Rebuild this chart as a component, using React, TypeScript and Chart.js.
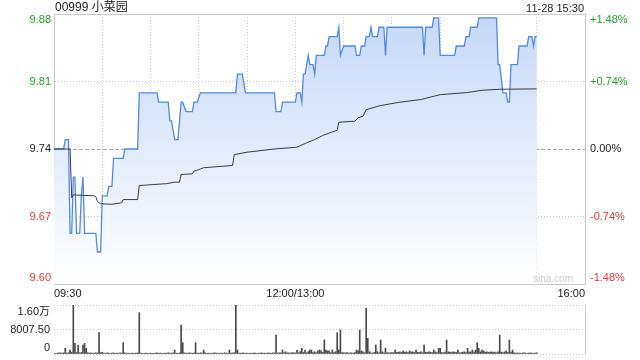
import React, { useEffect, useRef } from 'react';
import { Chart, registerables } from 'chart.js';

Chart.register(...registerables);

// ---------- data ----------
const stockTitle = '00999 小菜园';
const stampText = '11-28 15:30';
const watermark = 'sina.com';
const PREV_CLOSE = 9.74;
const RANGE_PCT = 1.48;
const SESSION_MINUTES = 330;

const timeTickMinutes = [0, 30, 60, 90, 120, 150, 180, 210, 240, 270, 300, 330];
const timeTickLabels = ['09:30', '', '', '', '', '12:00/13:00', '', '', '', '', '', '16:00'];
const priceTickSteps = [-2, -1, 0, 1, 2];
const priceTickLabels = ['9.60', '9.67', '9.74', '9.81', '9.88'];
const pctTickLabels = ['-1.48%', '-0.74%', '0.00%', '+0.74%', '+1.48%'];
const VOL_MAX = 16015;
const volTickValues = [0, 8007.5, 16015];
const volTickLabels = ['0', '8007.50', '1.60万'];

// price polyline vertices (minute index from 09:30, price)
const priceMinutes = [
  0, 6, 7, 9, 10, 11, 12, 13, 14, 16,
  17, 18, 19, 26, 27, 29, 30, 33, 34, 36,
  37, 43, 44, 52, 53, 64, 65, 71, 72, 73,
  75, 77, 79, 80, 82, 86, 87, 89, 91, 113,
  114, 117, 119, 137, 138, 141, 142, 150, 151, 153,
  154, 155, 156, 158, 159, 161, 162, 163, 168, 169,
  170, 171, 175, 176, 177, 178, 180, 187, 188, 190,
  191, 193, 194, 196, 197, 198, 201, 202, 205, 206,
  207, 229, 230, 231, 235, 236, 239, 240, 249, 250,
  255, 256, 258, 259, 263, 264, 275, 276, 277, 279,
  281, 282, 283, 284, 288, 289, 294, 295, 297, 298,
  299, 300,
];
const priceValues = [
  9.74, 9.74, 9.75, 9.75, 9.65, 9.65, 9.71, 9.71, 9.65, 9.65,
  9.69, 9.71, 9.65, 9.65, 9.63, 9.63, 9.69, 9.69, 9.70, 9.70,
  9.73, 9.73, 9.74, 9.74, 9.80, 9.80, 9.79, 9.79, 9.77, 9.77,
  9.75, 9.75, 9.79, 9.79, 9.78, 9.78, 9.79, 9.79, 9.80, 9.80,
  9.82, 9.82, 9.80, 9.80, 9.78, 9.78, 9.79, 9.79, 9.80, 9.80,
  9.79, 9.82, 9.82, 9.84, 9.83, 9.83, 9.82, 9.84, 9.84, 9.85,
  9.85, 9.86, 9.86, 9.86, 9.87, 9.84, 9.85, 9.85, 9.84, 9.84,
  9.85, 9.85, 9.86, 9.86, 9.87, 9.86, 9.86, 9.87, 9.87, 9.84,
  9.87, 9.87, 9.84, 9.87, 9.87, 9.88, 9.88, 9.84, 9.84, 9.85,
  9.85, 9.86, 9.86, 9.87, 9.87, 9.88, 9.88, 9.83, 9.83, 9.80,
  9.80, 9.79, 9.79, 9.83, 9.83, 9.85, 9.85, 9.86, 9.86, 9.85,
  9.86, 9.86,
];

// average price polyline vertices
const avgMinutes = [
  0, 10, 11, 12, 25, 26, 27, 29, 36, 42,
  43, 52, 53, 70, 75, 78, 79, 86, 87, 90,
  93, 111, 112, 120, 138, 151, 157, 162, 167, 173,
  176, 177, 187, 189, 192, 194, 203, 215, 228, 236,
  240, 257, 266, 277, 300,
];
const avgValues = [
  9.74, 9.74, 9.688, 9.691, 9.690, 9.689, 9.684, 9.6815, 9.681, 9.6825,
  9.686, 9.686, 9.701, 9.703, 9.7046, 9.7046, 9.7128, 9.7135, 9.7163, 9.718,
  9.720, 9.7224, 9.734, 9.7366, 9.7402, 9.7419, 9.7466, 9.7501, 9.7544, 9.7583,
  9.760, 9.7686, 9.7697, 9.7733, 9.775, 9.782, 9.7864, 9.790, 9.7928, 9.7963,
  9.798, 9.8003, 9.8027, 9.8038, 9.8042,
];

// volume per minute, 0..300
const volumes = [
  300, 200, 250, 400, 350, 300, 400, 1850, 300, 450,
  1300, 600, 16000, 3500, 500, 2950, 400, 500, 2950, 3500,
  1850, 400, 300, 350, 250, 300, 400, 350, 6970, 450,
  600, 300, 250, 350, 300, 200, 300, 400, 250, 300,
  200, 350, 300, 3700, 400, 250, 300, 200, 250, 300,
  200, 300, 350, 13500, 300, 250, 200, 300, 250, 200,
  300, 250, 200, 300, 350, 250, 300, 200, 250, 300,
  250, 400, 300, 250, 350, 1300, 300, 250, 400, 9480,
  3700, 350, 300, 250, 400, 300, 250, 350, 3700, 300,
  250, 400, 300, 1300, 350, 250, 300, 200, 250, 300,
  350, 250, 300, 200, 300, 250, 400, 300, 250, 1300,
  300, 350, 400, 16000, 1300, 300, 250, 350, 300, 250,
  300, 200, 300, 250, 350, 300, 200, 250, 300, 350,
  250, 300, 200, 350, 300, 250, 400, 350, 6200, 300,
  400, 350, 1300, 400, 750, 350, 400, 300, 500, 400,
  350, 1300, 400, 750, 1850, 500, 1300, 400, 750, 1300,
  1300, 500, 750, 400, 1000, 1300, 1000, 500, 4580, 1300,
  1000, 1000, 400, 1300, 500, 750, 6970, 1300, 7840, 500,
  400, 350, 500, 300, 400, 350, 300, 500, 1300, 1000,
  7840, 1000, 750, 400, 14900, 5120, 750, 400, 300, 500,
  2950, 750, 400, 4580, 750, 400, 1850, 500, 350, 400,
  500, 400, 1300, 500, 600, 700, 500, 1000, 600, 700,
  500, 1000, 600, 700, 500, 1300, 600, 500, 700, 400,
  2950, 600, 500, 700, 600, 500, 1300, 700, 500, 1850,
  1850, 500, 400, 600, 4580, 700, 600, 500, 700, 600,
  500, 1300, 400, 500, 600, 700, 500, 1850, 600, 700,
  1300, 600, 1300, 3700, 1850, 700, 1300, 1000, 600, 700,
  500, 600, 700, 500, 600, 400, 700, 6200, 600, 500,
  700, 1000, 500, 4580, 600, 1300, 400, 300, 350, 300,
  250, 300, 350, 300, 250, 300, 350, 300, 250, 300,
  400,
];

// ---------- styling ----------
const FONT = 'Arial, "Liberation Sans", "Noto Sans CJK SC", sans-serif';
const GREEN = '#22a622';
const RED = '#ef3535';
const TXT = '#222222';
const GRID = '#c8c8c8';
const BORDER = '#cccccc';

const yMin = PREV_CLOSE * (1 - RANGE_PCT / 100);
const yMax = PREV_CLOSE * (1 + RANGE_PCT / 100);
const priceTickValues = priceTickSteps.map((k) => PREV_CLOSE * (1 + (k * RANGE_PCT) / 200));

const edgeLabel = (label: string, i: number, n: number) =>
  i === 0 ? [label, ''] : i === n - 1 ? ['', label] : label;
const levelColor = (i: number) => (i < 2 ? RED : i === 2 ? TXT : GREEN);

const fitWidth = (w: number) => (s: any) => {
  s.width = w;
  s.paddingTop = 0;
  s.paddingBottom = 0;
};

export default function App() {
  const mainRef = useRef<HTMLCanvasElement>(null);
  const volRef = useRef<HTMLCanvasElement>(null);

  useEffect(() => {
    if (!mainRef.current || !volRef.current) return;

    const main = new Chart(mainRef.current, {
      type: 'line',
      data: {
        datasets: [
          {
            label: 'avg',
            data: avgMinutes.map((m, i) => ({ x: m, y: avgValues[i] })),
            borderColor: '#3c3c3c',
            borderWidth: 1,
            pointRadius: 0,
            fill: false,
            tension: 0,
            yAxisID: 'y',
          },
          {
            label: 'price',
            data: priceMinutes.map((m, i) => ({ x: m, y: priceValues[i] })),
            borderColor: '#4f8be8',
            borderWidth: 1.3,
            pointRadius: 0,
            tension: 0,
            fill: 'start',
            yAxisID: 'y',
            backgroundColor: (ctx: any) => {
              const area = ctx.chart.chartArea;
              if (!area) return 'rgba(200,217,247,0.6)';
              const g = ctx.chart.ctx.createLinearGradient(0, area.top, 0, area.bottom);
              g.addColorStop(0, 'rgb(198,216,247)');
              g.addColorStop(1, 'rgb(255,255,255)');
              return g;
            },
          },
        ],
      },
      options: {
        animation: false,
        responsive: false,
        devicePixelRatio: 1,
        layout: { padding: { top: 14, left: 0, right: 0, bottom: 0 } },
        plugins: { legend: { display: false }, tooltip: { enabled: false }, title: { display: false } },
        scales: {
          x: {
            type: 'linear',
            min: 0,
            max: SESSION_MINUTES,
            afterBuildTicks: (s: any) => {
              s.ticks = timeTickMinutes.map((v) => ({ value: v }));
            },
            afterFit: (s: any) => {
              s.height = 16;
              s.paddingLeft = 0;
              s.paddingRight = 0;
            },
            ticks: {
              autoSkip: false,
              maxRotation: 0,
              minRotation: 0,
              align: 'inner',
              padding: 3,
              color: TXT,
              font: { size: 11, family: FONT },
              callback: (_v: any, i: number) => timeTickLabels[i],
            },
            grid: {
              drawTicks: false,
              color: GRID,
              lineWidth: 1,
            },
            border: {
              color: BORDER,
              dash: (c: any) =>
                c.index === undefined || c.index === 0 || c.index === timeTickMinutes.length - 1 ? [] : [1, 2],
            },
          },
          y: {
            type: 'linear',
            position: 'left',
            min: yMin,
            max: yMax,
            afterBuildTicks: (s: any) => {
              s.ticks = priceTickValues.map((v) => ({ value: v }));
            },
            afterFit: fitWidth(54),
            ticks: {
              autoSkip: false,
              padding: 3,
              color: (c: any) => levelColor(c.index),
              font: { size: 11, family: FONT, lineHeight: '12px' },
              callback: (_v: any, i: number) => edgeLabel(priceTickLabels[i], i, priceTickLabels.length),
            },
            grid: {
              drawTicks: false,
              lineWidth: 1,
              color: (c: any) => (c.index === 0 ? 'rgba(0,0,0,0)' : c.index === 2 ? '#acacac' : c.index === 4 ? BORDER : GRID),
            },
            border: {
              color: BORDER,
              dash: (c: any) =>
                c.index === undefined || c.index === 4 || c.index === 0 ? [] : c.index === 2 ? [4, 2] : [1, 2],
            },
          },
          y1: {
            type: 'linear',
            position: 'right',
            min: yMin,
            max: yMax,
            afterBuildTicks: (s: any) => {
              s.ticks = priceTickValues.map((v) => ({ value: v }));
            },
            afterFit: fitWidth(55),
            ticks: {
              autoSkip: false,
              padding: 5,
              color: (c: any) => levelColor(c.index),
              font: { size: 11, family: FONT, lineHeight: '12px' },
              callback: (_v: any, i: number) => edgeLabel(pctTickLabels[i], i, pctTickLabels.length),
            },
            grid: { display: false, drawTicks: false },
            border: { color: BORDER },
          },
        },
      } as any,
    });

    const vol = new Chart(volRef.current, {
      type: 'bar',
      data: {
        datasets: [
          {
            label: 'vol',
            data: volumes.map((v, m) => ({ x: m, y: v })),
            backgroundColor: '#4a4a4a',
            borderWidth: 0,
            barThickness: 1,
            yAxisID: 'y',
          },
        ],
      },
      options: {
        animation: false,
        responsive: false,
        devicePixelRatio: 1,
        layout: { padding: { top: 5, bottom: 6, left: 0, right: 0 } },
        plugins: { legend: { display: false }, tooltip: { enabled: false } },
        scales: {
          x: {
            type: 'linear',
            min: 0,
            max: SESSION_MINUTES,
            offset: false,
            display: false,
            grid: { offset: false, display: false },
          },
          y: {
            type: 'linear',
            position: 'left',
            min: 0,
            max: VOL_MAX,
            afterBuildTicks: (s: any) => {
              s.ticks = volTickValues.map((v) => ({ value: v }));
            },
            afterFit: fitWidth(54),
            ticks: {
              autoSkip: false,
              padding: 4,
              color: TXT,
              font: { size: 11, family: FONT, lineHeight: '13px' },
              callback: (_v: any, i: number) => edgeLabel(volTickLabels[i], i, volTickLabels.length),
            },
            grid: { drawTicks: false, color: GRID, lineWidth: 1 },
            border: { display: false, dash: [1, 2] },
          },
          y2: {
            type: 'linear',
            position: 'right',
            min: 0,
            max: 1,
            afterFit: fitWidth(55),
            ticks: { display: false },
            grid: { display: false, drawTicks: false },
            border: { color: BORDER },
          },
        },
      } as any,
    });

    return () => {
      main.destroy();
      vol.destroy();
    };
  }, []);

  return (
    <div
      style={{
        position: 'fixed',
        left: 0,
        top: 0,
        width: 640,
        height: 360,
        background: '#ffffff',
        fontFamily: FONT,
        overflow: 'hidden',
      }}
    >
      <canvas ref={mainRef} width={640} height={300} style={{ position: 'absolute', left: 0, top: 0, display: 'block' }} />
      <canvas ref={volRef} width={640} height={60} style={{ position: 'absolute', left: 0, top: 300, display: 'block' }} />
      <div style={{ position: 'absolute', left: 55, top: 0, fontSize: 12, lineHeight: '15px', color: TXT, whiteSpace: 'nowrap' }}>
        {stockTitle}
      </div>
      <div style={{ position: 'absolute', right: 56, top: 1, fontSize: 11, lineHeight: '15px', color: TXT, whiteSpace: 'nowrap' }}>
        {stampText}
      </div>
      <div
        style={{
          position: 'absolute',
          right: 67,
          top: 272,
          fontSize: 10,
          lineHeight: '14px',
          color: '#c8c8c8',
          whiteSpace: 'nowrap',
          pointerEvents: 'none',
        }}
      >
        {watermark}
      </div>
    </div>
  );
}
